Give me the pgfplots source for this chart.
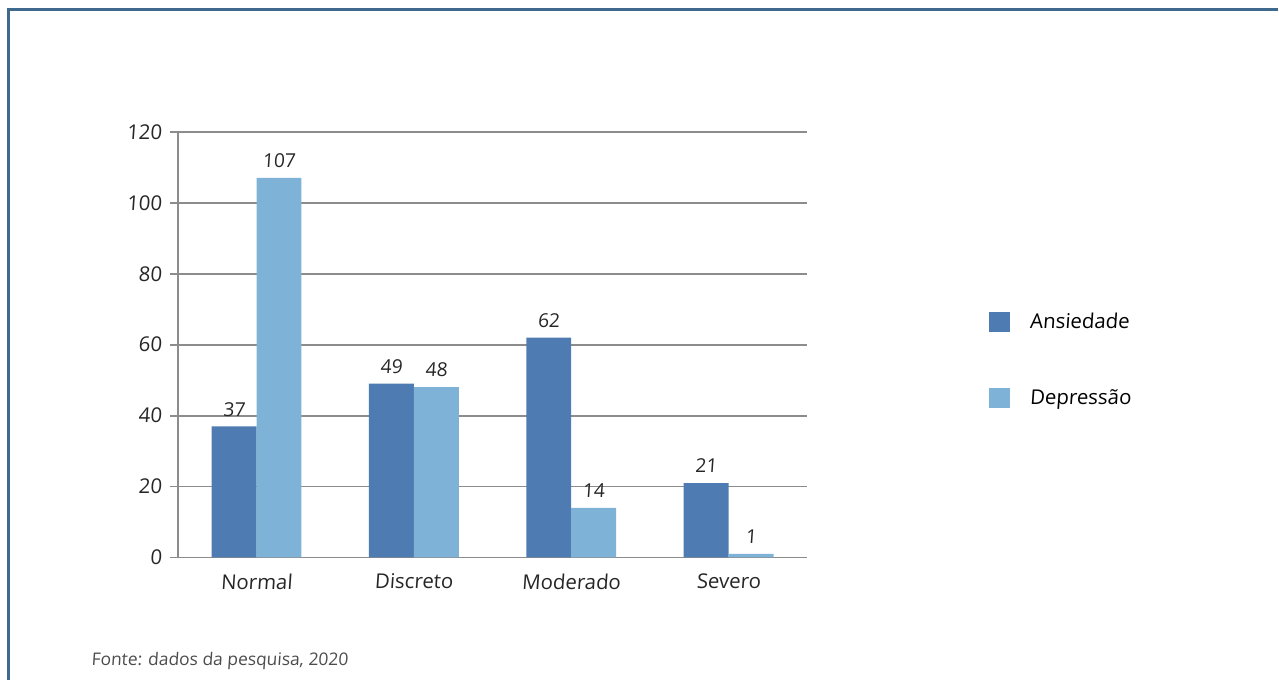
\documentclass[border=0pt]{standalone}
\usepackage{fontspec}
\setmainfont{Open Sans}[FakeSlant=0.07]
\usepackage{pgfplots}
\pgfplotsset{compat=1.18}
\definecolor{ans}{HTML}{4E7BB1}
\definecolor{dep}{HTML}{7EB3D7}
\definecolor{gridc}{HTML}{8C8C8C}
\definecolor{frame}{HTML}{3F6A8E}
\begin{document}
\begin{tikzpicture}[x=0.5pt,y=0.5pt]
\path (0,0) rectangle (1279,681);
\draw[frame, line width=1.2pt] (8.5,0) -- (8.5,671.5) -- (1279,671.5);
\node[anchor=base west, font=\fontsize{8.7}{10}\selectfont, text=black!70, inner sep=0pt] at (91,15) {Fonte: dados da pesquisa, 2020};
\begin{axis}[
  at={(89pt,61.5pt)}, anchor=south west,
  scale only axis, width=315pt, height=213pt,
  ybar=0pt, bar width=22.5pt,
  xmin=-0.5, xmax=3.5, ymin=0, ymax=120,
  ytick={0,20,...,120},
  xtick={0,1,2,3},
  xticklabels={Normal,Discreto,Moderado,Severo},
  extra x ticks={-0.5,0.5,1.5,2.5,3.5},
  extra x tick labels={},
  extra x tick style={major tick length=4pt, tick style={gridc, line width=0.9pt}},
  x tick style={draw=none},
  y tick style={gridc, line width=0.9pt},
  tick align=outside, major tick length=4pt,
  ymajorgrids, grid style={gridc, line width=0.9pt},
  axis line style={gridc, line width=0.9pt},
  axis x line*=bottom, axis y line*=left,
  ticklabel style={font=\fontsize{10.2}{11}\selectfont, text=black!85},
  /pgf/number format/assume math mode=true,
  yticklabel style={xshift=-0.5pt},
  xticklabel style={yshift=-0.5pt},
  nodes near coords,
  nodes near coords style={font=\fontsize{9.6}{11}\selectfont, text=black!85, yshift=1.5pt},
  legend style={draw=none, fill=none, at={(rel axis cs:1.288,0.585)}, anchor=north west,
     font=\fontsize{10.2}{11}\selectfont, row sep=25pt, inner sep=0pt,
     /tikz/every odd column/.append style={column sep=8pt}},
  legend cell align=left,
  legend image code/.code={\fill[#1] (0pt,-5pt) rectangle (10.5pt,5pt);},
  every axis plot/.append style={draw=none},
]
\addplot[fill=ans] coordinates {(0,37) (1,49) (2,62) (3,21)};
\addplot[fill=dep] coordinates {(0,107) (1,48) (2,14) (3,1)};
\legend{Ansiedade,Depressão}
\end{axis}
\end{tikzpicture}
\end{document}
